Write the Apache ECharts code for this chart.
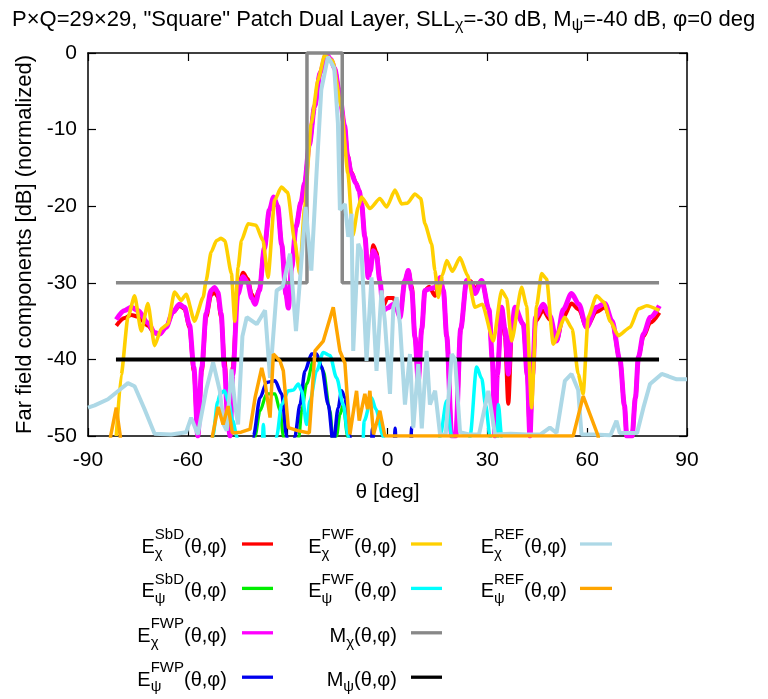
<!DOCTYPE html>
<html>
<head>
<meta charset="utf-8">
<script src="https://cdn.jsdelivr.net/npm/echarts@6/dist/echarts.min.js"></script>
<style>
  html, body { margin: 0; padding: 0; background: #fff; }
  #chart { width: 768px; height: 699px; }
</style>
</head>
<body>
<div id="chart"></div>
<script>
// axis ticks
const xTicks = [-90, -60, -30, 0, 30, 60, 90];
const yTicks = [-50, -40, -30, -20, -10, 0];

// [theta (deg), level (dB)]
const chiSbd = [[-81.5,-35.6],[-79,-34.6],[-77,-34.2],[-75,-34.4],[-72,-35.6],[-70,-36.6],[-68.5,-36.7],[-66.5,-35.8],[-64.5,-33.9],[-62.5,-33.0],[-61,-33.4],[-59.5,-35.8],[-58.2,-41.5],[-57,-50],[-55.8,-41.5],[-54.5,-34.5],[-53,-31.6],[-52,-31.2],[-51,-31.8],[-50,-34.5],[-49,-40],[-48,-46],[-47.3,-49],[-46.5,-41],[-45,-31],[-43.4,-28.7],[-42,-29.5],[-40.8,-31.5],[-39.8,-32.3],[-38.5,-30.8],[-37,-25.5],[-35.5,-20.6],[-34.2,-18.9],[-33,-20],[-31.8,-25],[-30.5,-31.5],[-29.8,-33.1],[-28.8,-28],[-27.5,-22.7],[-26,-19.5],[-24.9,-17],[-23.5,-12],[-21.9,-7],[-20.2,-2.5],[-18.4,-0.2],[-17,-0.8],[-15.9,-2],[-14.5,-5],[-12.9,-9.5],[-12,-13.3],[-10.9,-15.5],[-9.5,-16.9],[-8.5,-18],[-7.8,-19.7],[-6.8,-24],[-5.8,-28.8],[-5.2,-28],[-4.3,-25.1],[-3.3,-26],[-2.3,-29.7],[-1.3,-33],[0,-32],[1.75,-32],[2.8,-33],[3.75,-34.3],[5.25,-29.7],[6.25,-28.4],[7.3,-30.5],[8.25,-37],[9.25,-42.8],[10.3,-36],[11.25,-31],[12.5,-30.5],[14.3,-31.7],[15.8,-29.5],[16.8,-31],[17.8,-37],[19.3,-50],[20.5,-50],[22,-36],[23.8,-29.7],[25,-29.8],[26.3,-30.8],[28.3,-29.7],[30.5,-33.5],[31.5,-40],[32.3,-50],[33,-42],[34.3,-33.2],[35.3,-37],[36.3,-45.8],[37.3,-37],[38.3,-33.5],[40.8,-35.4],[42,-42],[42.8,-50],[43.6,-42],[44.5,-35],[46.8,-33.6],[48.8,-34.8],[50.8,-37.6],[52.8,-34.5],[55.3,-32.7],[57.5,-33.5],[59.8,-35.8],[62.8,-33.8],[65.3,-33.2],[67.5,-35.2],[69.9,-40.2],[71.2,-46],[71.9,-50],[73.5,-50],[74.5,-45],[75.4,-39.7],[76.9,-37],[79,-35.2],[81.7,-33.9]];
const psiSbd = [[-40.5,-60],[-39.8,-50],[-38.3,-46.7],[-36.3,-44.5],[-33.8,-44.5],[-32.3,-46.7],[-31.3,-50],[-30.5,-60],[-27.5,-60],[-26.6,-50],[-25.8,-46.7],[-24.3,-43.2],[-22.3,-40.2],[-21,-40],[-19.3,-41.5],[-17.3,-46.7],[-16.3,-51],[-15.3,-50],[-14.3,-47.2],[-13.3,-45.9],[-12,-50],[-11.3,-60]];
const chiFwp = [[-81.5,-34.8],[-79,-33.6],[-77,-33.2],[-75,-33.6],[-72,-35.2],[-70,-36.5],[-68.5,-36.7],[-66.5,-35.8],[-64.5,-33.8],[-62.5,-32.8],[-61,-33.2],[-59.5,-35.5],[-58.2,-41],[-57,-50],[-55.8,-41],[-54.5,-34],[-53,-31],[-52,-30.6],[-51,-31.2],[-50,-34],[-49,-41],[-48,-48],[-47.3,-50],[-46.5,-42],[-45,-31.5],[-43.4,-29.2],[-42,-30],[-40.8,-32],[-39.8,-32.8],[-38.5,-31],[-37,-25.5],[-35.5,-20.5],[-34.2,-18.8],[-33,-20],[-31.8,-25],[-30.5,-31.5],[-29.8,-33.3],[-28.8,-28],[-27.5,-22.7],[-26,-19.5],[-24.9,-17],[-23.5,-12],[-21.9,-7],[-20.2,-2.5],[-18.4,-0.2],[-17,-0.8],[-15.9,-2],[-14.5,-5],[-12.9,-9.5],[-12,-13.5],[-10.9,-15.7],[-9.5,-17],[-8.5,-18],[-7.8,-19.7],[-6.8,-24],[-5.8,-29.3],[-5.2,-28.5],[-4.3,-25.8],[-3.3,-26.5],[-2.3,-29.7],[-1.3,-33.6],[0,-33.3],[1.75,-32.8],[2.8,-33.5],[3.75,-34.5],[5.25,-29.7],[6.25,-28.4],[7.3,-31],[8.25,-37.1],[9.25,-42.8],[10.3,-36],[11.25,-31],[12.5,-30.8],[14.3,-30.6],[15.8,-29.3],[16.8,-31],[17.8,-37],[19.3,-50],[20.5,-50],[22,-36],[23.8,-29.7],[25,-30],[26.3,-31.4],[28.3,-29.7],[30.5,-33.5],[31.5,-40],[32.3,-50],[33,-42],[34.3,-33.2],[35.3,-36],[36.3,-41.9],[37.3,-36],[38.3,-33.2],[40.8,-35.4],[42,-42],[42.8,-50],[43.6,-42],[44.5,-34.5],[46.8,-32.8],[48.8,-34.3],[50.8,-37.6],[52.8,-33.5],[55.3,-31.4],[57.5,-32.8],[59.8,-35.8],[62.8,-33.2],[65.3,-32.7],[67.5,-35],[69.9,-40.2],[71.2,-46],[71.9,-50],[73.5,-50],[74.5,-45],[75.4,-39.7],[76.9,-36.7],[79,-34.5],[81.7,-33]];
const psiFwp = [[-41,-60],[-40.3,-50],[-38.3,-45],[-36.3,-43],[-33.8,-42.8],[-31.8,-44.5],[-30.3,-50],[-29.5,-60],[-28.5,-60],[-27.8,-50],[-26.3,-45.9],[-24.8,-41.5],[-22.8,-39.3],[-21.3,-39.3],[-19.8,-41],[-17.8,-45.9],[-16.3,-51],[-14.8,-46.3],[-13.8,-44.1],[-12.8,-45],[-11.3,-50],[-10.5,-60],[-5.5,-60],[-4.5,-49],[-3.5,-60],[1.5,-60],[2.3,-49],[3,-60],[6.5,-60],[7.25,-48.9],[8,-60]];
const chiFwf = [[-81.5,-50],[-80,-42],[-78,-34.5],[-76,-31.7],[-74,-36.3],[-72,-32.7],[-70,-38.2],[-68,-36],[-66,-35.4],[-64,-31.2],[-62,-32.3],[-60.5,-31.5],[-58,-35],[-55.4,-31.9],[-54.5,-29.7],[-53,-26],[-51.4,-24.5],[-50,-24.2],[-48.9,-24.5],[-46.9,-28.8],[-45.9,-35],[-44.9,-28],[-43.9,-24.5],[-41.9,-22.3],[-39.5,-22.5],[-37.4,-24.5],[-35.9,-29.3],[-33.9,-19.2],[-31.9,-17.5],[-30,-18.2],[-27.9,-24.5],[-26.4,-28.8],[-24.9,-20.1],[-22.9,-9.2],[-20.9,-3.5],[-18.9,-0.3],[-16.5,-1],[-13.9,-7],[-11.9,-15.7],[-10.4,-23.8],[-8.8,-20.1],[-7.8,-18.8],[-5.3,-20.3],[-2.3,-19],[-0.25,-20.1],[2.25,-17.9],[4.25,-19.7],[6,-19.6],[8.25,-18.4],[10,-19],[11.25,-22.3],[13.25,-24.9],[14.25,-28.4],[15.25,-31.9],[16.5,-29],[17.8,-27.1],[19.5,-28.5],[21.8,-26.7],[24,-29],[26.3,-33.2],[28.5,-32.8],[31.8,-37.6],[34.3,-31],[35.8,-32],[37.3,-37.6],[40.3,-30.6],[41.8,-33],[43.3,-46.3],[44.8,-33],[46.3,-28.8],[47.8,-29.5],[49.8,-38],[53.3,-34.5],[55.5,-36],[57.3,-41.9],[58.8,-44.5],[60.3,-34.5],[62.8,-31.7],[65,-32.5],[66.9,-35],[69.4,-36.9],[72.9,-35.8],[75.4,-33.4],[77.9,-33],[81.7,-33.6]];
const psiFwf = [[-53.5,-60],[-52.5,-50],[-51,-45.5],[-50.3,-44.5],[-49,-44.1],[-47.8,-45.5],[-46.5,-48],[-45.3,-50],[-44.5,-60],[-38.2,-60],[-37.3,-48.5],[-36.4,-60],[-34,-60],[-33.3,-50],[-31.8,-45.9],[-29.8,-44.1],[-28.3,-44],[-26.8,-43.2],[-25.8,-44.1],[-24.3,-48.5],[-23.3,-45.4],[-21.3,-41.5],[-19.3,-39.1],[-17.3,-39.5],[-15.3,-42.4],[-13.3,-45.9],[-11.8,-50],[-11,-60],[-8,-60],[-7,-48],[-4.8,-45],[-3.5,-46.5],[-1.3,-50],[-0.5,-60],[15,-60],[15.8,-50],[17.8,-45.4],[19.3,-50],[20,-60],[24.3,-60],[24.8,-50],[26.8,-41],[28.3,-42.5],[29.5,-46],[30.8,-50],[31.5,-60],[32.5,-60],[33.3,-45.9],[34.3,-50],[35,-60]];
const maskChi = [[-81.6,-30],[-24.2,-30],[-24.2,0],[-13.6,0],[-13.6,-30],[81.6,-30]];
const maskPsi = [[-81.6,-40],[81.6,-40]];
const chiRef = [[-90,-46.3],[-88,-46],[-84,-45.2],[-80,-43.8],[-78,-43.1],[-76,-43.5],[-73,-46.5],[-70,-49.7],[-65,-49.8],[-60.5,-49.5],[-59,-47.6],[-57,-49.8],[-54.5,-44],[-52.4,-40.4],[-50.4,-44.1],[-49.2,-48.5],[-48.3,-49.3],[-46.9,-41.3],[-45.8,-46],[-44.9,-48.5],[-43.6,-37],[-42.3,-34.5],[-39.3,-35.4],[-36.8,-33.6],[-35.3,-42.4],[-33.3,-31],[-31.5,-30.5],[-29.3,-26.2],[-27.5,-36.3],[-24.6,-20.1],[-22.9,-28.4],[-21.3,-15.5],[-19.9,-4.8],[-17.9,-0.5],[-16,-2],[-14.9,-9.2],[-14.3,-20.5],[-12.8,-19.7],[-11.8,-24],[-10.8,-21],[-10.3,-38.9],[-8.8,-24.9],[-7.8,-26],[-6.3,-40.2],[-4.8,-29.3],[-3.3,-41.5],[-1.8,-31],[-0.8,-35],[0.75,-44.5],[1.75,-33.2],[2.75,-31.9],[3.75,-35.4],[5.25,-45.9],[6.75,-39.3],[7.75,-48.9],[9.25,-40.6],[10.3,-49],[11.75,-38.9],[12.75,-45.9],[14.3,-44.1],[15.8,-49.8],[17.5,-49.8],[19.3,-39.3],[20.3,-40],[21.8,-49.5],[24.5,-49.8],[27.5,-49.8],[30.3,-44.1],[32.3,-49.8],[37,-49.7],[42,-49.8],[46,-49.8],[48.8,-48.9],[50.8,-49.6],[53.3,-42.8],[55.3,-41.9],[57.3,-44],[58.3,-49.8],[62,-49.8],[67,-49.9],[68.8,-48],[69.8,-49.6],[75,-49.6],[76.9,-46.3],[78.9,-43.2],[82.4,-41.9],[84.4,-42.2],[86.9,-42.6],[90,-42.6]];
const psiRef = [[-84.5,-60],[-83.2,-50],[-81.5,-46.3],[-80.3,-50],[-79.5,-60],[-54,-60],[-52.6,-50],[-50.9,-46.2],[-49.4,-48.5],[-47.9,-46.1],[-46.6,-49.6],[-44,-49.5],[-41.3,-49.1],[-39.8,-45],[-37.8,-41.1],[-36.8,-43],[-35.3,-47.6],[-34.3,-39.3],[-32.3,-40.2],[-31.3,-41.5],[-29.8,-48.9],[-27,-49.3],[-23.5,-49.6],[-22.6,-44],[-21.8,-38.9],[-19.3,-37.6],[-16.3,-33.2],[-14.3,-38.9],[-12.8,-40.5],[-11.3,-49.8],[-9.3,-44.1],[-8.5,-48],[-6.8,-44.5],[-6,-46.5],[-5.3,-44.1],[-4.2,-49.8],[-2.3,-46.7],[-0.8,-50],[55.8,-50],[58.8,-44.8],[63.3,-50],[64.5,-60],[82,-60]];

const FONT = '"Liberation Sans", Arial, Helvetica, sans-serif';
const measureCtx = document.createElement('canvas').getContext('2d');
function textWidth(t, size) {
  measureCtx.font = size + 'px ' + FONT;
  return measureCtx.measureText(t).width;
}
function textEl(t, x, base, size) {
  return {
    type: 'text', x: x, y: base - 0.33 * size, silent: true,
    style: { text: t, font: size + 'px ' + FONT, fill: '#000', align: 'left', verticalAlign: 'middle' }
  };
}
// parts: {t} normal, {sub} subscript, {sup, sub} stacked
function richText(x, base, parts, size, small, align, supUp, subDown) {
  const w = parts.map(p => p.t !== undefined ? textWidth(p.t, size)
    : Math.max(p.sup ? textWidth(p.sup, small) : 0, p.sub ? textWidth(p.sub, small) : 0));
  const total = w.reduce((a, b) => a + b, 0);
  let cx = align === 'right' ? x - total : x;
  const out = [];
  parts.forEach((p, i) => {
    if (p.t !== undefined) out.push(textEl(p.t, cx, base, size));
    if (p.sup) out.push(textEl(p.sup, cx, base - supUp, small));
    if (p.sub) out.push(textEl(p.sub, cx, base + subDown, small));
    cx += w[i];
  });
  return out;
}

const entries = [
  { name: 'chiSbd', data: chiSbd, color: '#ff0000', width: 4, smooth: 0.3, label: [{ t: 'E' }, { sup: 'SbD', sub: 'χ' }, { t: '(θ,φ)' }] },
  { name: 'psiSbd', data: psiSbd, color: '#00ee00', width: 3.2, smooth: 0.3, label: [{ t: 'E' }, { sup: 'SbD', sub: 'ψ' }, { t: '(θ,φ)' }] },
  { name: 'chiFwp', data: chiFwp, color: '#ff00ff', width: 5, smooth: 0.3, label: [{ t: 'E' }, { sup: 'FWP', sub: 'χ' }, { t: '(θ,φ)' }] },
  { name: 'psiFwp', data: psiFwp, color: '#0000ee', width: 3.5, smooth: 0.3, label: [{ t: 'E' }, { sup: 'FWP', sub: 'ψ' }, { t: '(θ,φ)' }] },
  { name: 'chiFwf', data: chiFwf, color: '#ffd000', width: 3.6, smooth: 0.2, label: [{ t: 'E' }, { sup: 'FWF', sub: 'χ' }, { t: '(θ,φ)' }] },
  { name: 'psiFwf', data: psiFwf, color: '#00ffff', width: 3.5, smooth: 0.3, label: [{ t: 'E' }, { sup: 'FWF', sub: 'ψ' }, { t: '(θ,φ)' }] },
  { name: 'maskChi', data: maskChi, color: '#888888', width: 3.5, smooth: 0, label: [{ t: 'M' }, { sub: 'χ' }, { t: '(θ,φ)' }] },
  { name: 'maskPsi', data: maskPsi, color: '#000000', width: 4, smooth: 0, label: [{ t: 'M' }, { sub: 'ψ' }, { t: '(θ,φ)' }] },
  { name: 'chiRef', data: chiRef, color: '#add8e6', width: 4, smooth: 0, label: [{ t: 'E' }, { sup: 'REF', sub: 'χ' }, { t: '(θ,φ)' }] },
  { name: 'psiRef', data: psiRef, color: '#ffa500', width: 3.5, smooth: 0, label: [{ t: 'E' }, { sup: 'REF', sub: 'ψ' }, { t: '(θ,φ)' }] }
];

// legend layout: 3 columns, 4 rows
const colRight = [227, 397, 567];
const lineX = [[242, 273], [411, 442], [580, 612]];
const rowBase = [554, 598.4, 642.8, 687.2];
const legendPos = [[0, 0], [0, 1], [0, 2], [0, 3], [1, 0], [1, 1], [1, 2], [1, 3], [2, 0], [2, 1]];

let graphics = [];
// title
graphics = graphics.concat(richText(12, 27, [
  { t: 'P×Q=29×29, "Square" Patch Dual Layer, SLL' }, { sub: 'χ' },
  { t: '=-30 dB, M' }, { sub: 'ψ' }, { t: '=-40 dB, φ=0 deg' }
], 22, 16, 'left', 12, 4));

entries.forEach((s, i) => {
  const [c, r] = legendPos[i];
  graphics = graphics.concat(richText(colRight[c], rowBase[r], s.label, 20, 15, 'right', 14, 5));
  graphics.push({
    type: 'line', silent: true,
    shape: { x1: lineX[c][0], y1: rowBase[r] - 10, x2: lineX[c][1], y2: rowBase[r] - 10 },
    style: { stroke: s.color, lineWidth: 3.3 }
  });
});

const chart = echarts.init(document.getElementById('chart'), null, { renderer: 'canvas' });

const axisCommon = {
  type: 'value',
  splitLine: { show: false },
  axisLine: { show: true, onZero: false, lineStyle: { color: '#000', width: 1.5 } },
  axisTick: { show: true, inside: true, length: 8, lineStyle: { color: '#000', width: 1.2 } }
};

chart.setOption({
  animation: false,
  backgroundColor: '#fff',
  grid: { left: 88, right: 81, top: 53, bottom: 263, containLabel: false },
  xAxis: [
    Object.assign({}, axisCommon, {
      min: xTicks[0], max: xTicks[xTicks.length - 1], interval: 30,
      name: 'θ [deg]', nameLocation: 'middle', nameGap: 46,
      nameTextStyle: { fontFamily: FONT, fontSize: 21, color: '#000' },
      axisLabel: { fontFamily: FONT, fontSize: 21, color: '#000', margin: 14 }
    }),
    Object.assign({}, axisCommon, {
      position: 'top', min: xTicks[0], max: xTicks[xTicks.length - 1], interval: 30,
      axisLabel: { show: false }
    })
  ],
  yAxis: [
    Object.assign({}, axisCommon, {
      min: yTicks[0], max: yTicks[yTicks.length - 1], interval: 10,
      name: 'Far field components [dB] (normalized)', nameLocation: 'middle', nameGap: 52,
      nameTextStyle: { fontFamily: FONT, fontSize: 22, color: '#000' },
      axisLabel: { fontFamily: FONT, fontSize: 21, color: '#000', margin: 11 }
    }),
    Object.assign({}, axisCommon, {
      position: 'right', min: yTicks[0], max: yTicks[yTicks.length - 1], interval: 10,
      axisLabel: { show: false }
    })
  ],
  series: entries.map(s => ({
    name: s.name,
    type: 'line',
    xAxisIndex: 0,
    yAxisIndex: 0,
    data: s.data,
    symbol: 'none',
    smooth: s.smooth,
    smoothMonotone: 'x',
    clip: s.name.indexOf('mask') !== 0,
    silent: true,
    lineStyle: { color: s.color, width: s.width }
  })),
  graphic: graphics
});
</script>
</body>
</html>
